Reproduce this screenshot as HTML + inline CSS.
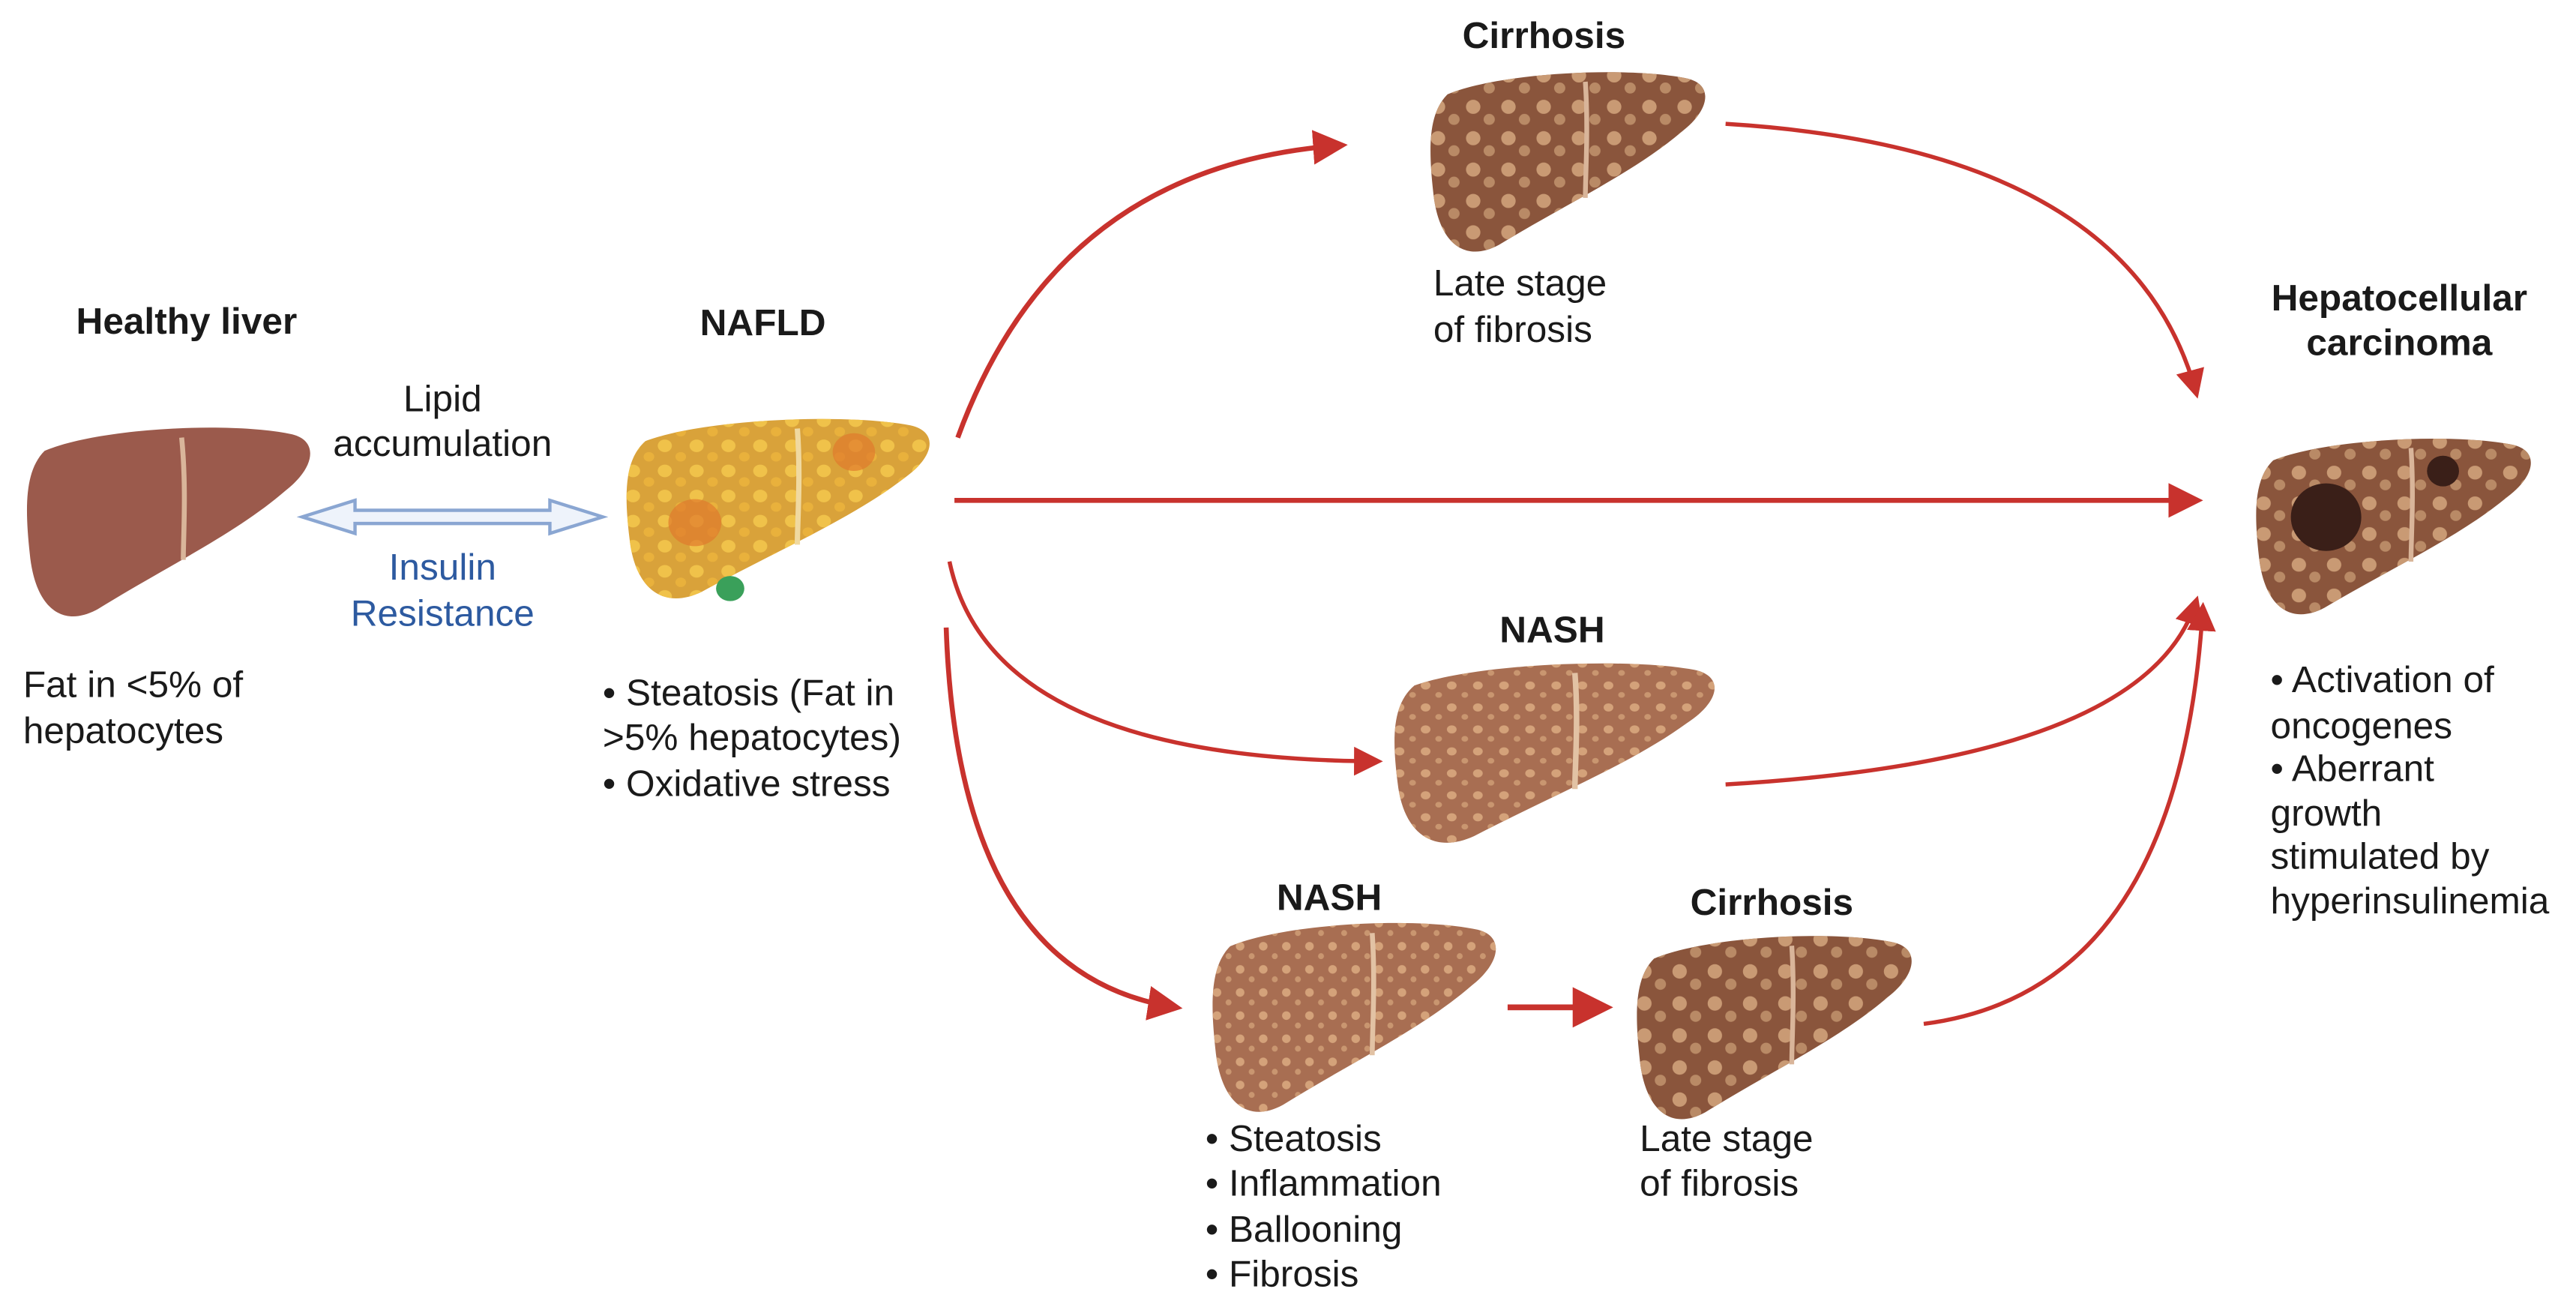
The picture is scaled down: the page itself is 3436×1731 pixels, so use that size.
<!DOCTYPE html>
<html><head><meta charset="utf-8"><style>
html,body{margin:0;padding:0;background:#fff;}
svg{display:block;}
text{font-family:"Liberation Sans","DejaVu Sans",sans-serif;fill:#1a1a1a;}
.b{font-weight:bold;font-size:22.5px;}
.t{font-size:22.5px;}
</style></head><body>
<svg width="3436" height="1731" viewBox="0 0 1560 786" preserveAspectRatio="none" xmlns="http://www.w3.org/2000/svg">
<defs>
<path id="liver" d="M12,18 C45,4 125,0 162,8 C178,12 176,28 158,42 C128,68 86,88 44,114 C22,126 6,112 3,80 C0,52 0,30 12,18 Z"/>
<pattern id="spots" width="14" height="14" patternUnits="userSpaceOnUse">
<circle cx="4" cy="4" r="2.6" fill="#d4a27a"/><circle cx="11" cy="10" r="1.8" fill="#c99670"/>
</pattern>
<pattern id="bigspots" width="22" height="20" patternUnits="userSpaceOnUse">
<circle cx="6" cy="6" r="4.5" fill="#c99a74"/><circle cx="16" cy="14" r="3.5" fill="#b98a66"/>
</pattern>
<pattern id="fat" width="18" height="16" patternUnits="userSpaceOnUse">
<circle cx="5" cy="5" r="4" fill="#f0c24a"/><circle cx="14" cy="12" r="3" fill="#e9b13c"/>
</pattern>
<marker id="ah" viewBox="0 0 10 10" refX="8" refY="5" markerWidth="7" markerHeight="7" orient="auto"><path d="M0,0 L10,5 L0,10 Z" fill="#c8322d"/></marker>
</defs>

<!-- Healthy liver -->
<g transform="translate(15,255)">
<use href="#liver" fill="#9b5a4c"/>
<path d="M95,10 C98,40 96,70 96,84" stroke="#d9b59a" stroke-width="3" fill="none"/>
</g>
<text class="b" x="113" y="202" text-anchor="middle">Healthy liver</text>
<text class="t" x="14" y="422">Fat in &lt;5% of</text>
<text class="t" x="14" y="450">hepatocytes</text>

<!-- double arrow -->
<path d="M183,313 L215,303 L215,309 L333,309 L333,303 L365,313 L333,323 L333,317 L215,317 L215,323 Z" fill="#eef3fb" stroke="#8aa6d2" stroke-width="2"/>
<text class="t" x="268" y="249" text-anchor="middle">Lipid</text>
<text class="t" x="268" y="276" text-anchor="middle">accumulation</text>
<text class="t" x="268" y="351" text-anchor="middle" style="fill:#2d5aa0">Insulin</text>
<text class="t" x="268" y="379" text-anchor="middle" style="fill:#2d5aa0">Resistance</text>

<!-- NAFLD -->
<g transform="translate(378,250) scale(1.07,0.95)">
<use href="#liver" fill="#d9a23a"/>
<use href="#liver" fill="url(#fat)"/>
<circle cx="40" cy="70" r="15" fill="#e07a2c" opacity="0.7"/>
<circle cx="130" cy="25" r="12" fill="#e07a2c" opacity="0.7"/>
<circle cx="60" cy="112" r="8" fill="#3aa05a"/>
<path d="M98,10 C100,40 98,70 98,84" stroke="#f0d9a0" stroke-width="3" fill="none"/>
</g>
<text class="b" x="462" y="203" text-anchor="middle">NAFLD</text>
<text class="t" x="365" y="427">• Steatosis (Fat in</text>
<text class="t" x="365" y="454">&gt;5% hepatocytes)</text>
<text class="t" x="365" y="482">• Oxidative stress</text>

<!-- Cirrhosis top -->
<g transform="translate(865,40) scale(0.97,0.95)">
<use href="#liver" fill="#8a553c"/><use href="#liver" fill="url(#bigspots)"/>
<path d="M98,10 C100,40 98,70 98,84" stroke="#d9b59a" stroke-width="3" fill="none"/>
</g>
<text class="b" x="935" y="29" text-anchor="middle">Cirrhosis</text>
<text class="t" x="868" y="179">Late stage</text>
<text class="t" x="868" y="207">of fibrosis</text>

<!-- HCC -->
<g transform="translate(1365,262) scale(0.97,0.93)">
<use href="#liver" fill="#8a553c"/><use href="#liver" fill="url(#bigspots)"/>
<circle cx="45" cy="55" r="22" fill="#3a1f18"/>
<circle cx="118" cy="25" r="10" fill="#3a1f18"/>
<path d="M98,10 C100,40 98,70 98,84" stroke="#d9b59a" stroke-width="3" fill="none"/>
</g>
<text class="b" x="1453" y="188" text-anchor="middle">Hepatocellular</text>
<text class="b" x="1453" y="215" text-anchor="middle">carcinoma</text>
<text class="t" x="1375" y="419">• Activation of</text>
<text class="t" x="1375" y="447">oncogenes</text>
<text class="t" x="1375" y="473">• Aberrant</text>
<text class="t" x="1375" y="500">growth</text>
<text class="t" x="1375" y="526">stimulated by</text>
<text class="t" x="1375" y="553">hyperinsulinemia</text>

<!-- NASH middle -->
<g transform="translate(843,398) scale(1.13,0.95)">
<use href="#liver" fill="#a86e52"/><use href="#liver" fill="url(#spots)"/>
<path d="M98,10 C100,40 98,70 98,84" stroke="#e2c2a4" stroke-width="3" fill="none"/>
</g>
<text class="b" x="940" y="389" text-anchor="middle">NASH</text>

<!-- NASH bottom -->
<g transform="translate(733,555) scale(1.0,1.0)">
<use href="#liver" fill="#a86e52"/><use href="#liver" fill="url(#spots)"/>
<path d="M98,10 C100,40 98,70 98,84" stroke="#e2c2a4" stroke-width="3" fill="none"/>
</g>
<text class="b" x="805" y="551" text-anchor="middle">NASH</text>
<text class="t" x="730" y="697">• Steatosis</text>
<text class="t" x="730" y="724">• Inflammation</text>
<text class="t" x="730" y="752">• Ballooning</text>
<text class="t" x="730" y="779">• Fibrosis</text>

<!-- Cirrhosis bottom -->
<g transform="translate(990,563) scale(0.97,0.97)">
<use href="#liver" fill="#8a553c"/><use href="#liver" fill="url(#bigspots)"/>
<path d="M98,10 C100,40 98,70 98,84" stroke="#d9b59a" stroke-width="3" fill="none"/>
</g>
<text class="b" x="1073" y="554" text-anchor="middle">Cirrhosis</text>
<text class="t" x="993" y="697">Late stage</text>
<text class="t" x="993" y="724">of fibrosis</text>

<!-- arrows -->
<g fill="none" stroke="#c8322d" marker-end="url(#ah)">
<path d="M580,265 Q640,100 812,88" stroke-width="3"/>
<path d="M578,303 L1330,303" stroke-width="3"/>
<path d="M575,340 Q600,460 834,461" stroke-width="2.5"/>
<path d="M573,380 Q580,590 712,610" stroke-width="3"/>
<path d="M913,610 L972,610" stroke-width="3.5"/>
<path d="M1045,75 Q1290,90 1330,238" stroke-width="2.5"/>
<path d="M1045,475 Q1300,460 1330,364" stroke-width="2.5"/>
<path d="M1165,620 Q1320,600 1334,368" stroke-width="2.5"/>
</g>
</svg>
</body></html>
